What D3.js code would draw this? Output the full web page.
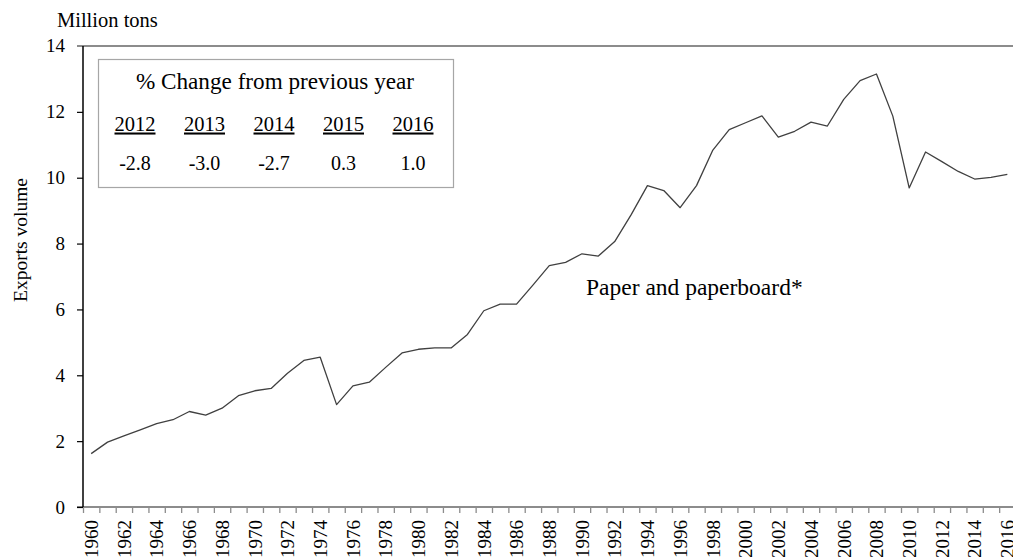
<!DOCTYPE html>
<html>
<head>
<meta charset="utf-8">
<script src="https://cdn.jsdelivr.net/npm/d3@7"></script>
<style>
  html, body { margin: 0; padding: 0; background: #fff; overflow: hidden; }
  svg { display: block; font-family: "Liberation Serif", "Times New Roman", serif; }
  svg text { font-family: "Liberation Serif", "Times New Roman", serif; fill: #000; }
</style>
</head>
<body>
<svg id="chart" width="1013" height="557"></svg>
<script>
// ---- data ----
const years = d3.range(1960, 2017);
const exportsVolume = [
  1.62, 1.97, 2.16, 2.34, 2.53, 2.65, 2.90, 2.79, 3.00, 3.38,
  3.53, 3.60, 4.06, 4.45, 4.55, 3.11, 3.68, 3.79, 4.24, 4.68,
  4.79, 4.83, 4.83, 5.24, 5.96, 6.16, 6.16, 6.74, 7.33, 7.43,
  7.69, 7.62, 8.06, 8.87, 9.76, 9.61, 9.09, 9.76, 10.84, 11.46,
  11.67, 11.88, 11.23, 11.41, 11.69, 11.57, 12.38, 12.95, 13.15, 11.87,
  9.69, 10.78, 10.49, 10.19, 9.96, 10.01, 10.10
];
const yTicks = [0, 2, 4, 6, 8, 10, 12, 14];
const xLabelYears = d3.range(1960, 2017, 2);
const changeYears = ["2012", "2013", "2014", "2015", "2016"];
const changeValues = ["-2.8", "-3.0", "-2.7", "0.3", "1.0"];
const unitLabel = "Million tons";
const yTitle = "Exports volume";
const seriesLabel = "Paper and paperboard*";
const insetTitle = "% Change from previous year";

// ---- layout ----
const svg = d3.select("#chart");
const plotLeft = 83, plotTop = 46, plotBottom = 507, bandW = 16.36;
const plotRight = plotLeft + bandW * years.length;

const xEdge = d3.scaleLinear().domain([1960, 2017]).range([plotLeft, plotRight]);
const y = d3.scaleLinear().domain([0, 14]).range([plotBottom, plotTop]);
const lineColor = "#404040";

// top border line at 14
svg.append("line")
  .attr("x1", plotLeft - 6).attr("x2", 1013)
  .attr("y1", y(14)).attr("y2", y(14))
  .attr("stroke", "#8c8c8c").attr("stroke-width", 2);

// x axis (ticks at band edges)
const xAxisG = svg.append("g")
  .attr("transform", `translate(0,${plotBottom})`)
  .call(d3.axisBottom(xEdge).tickValues(d3.range(1960, 2018)).tickFormat("").tickSize(6).tickSizeOuter(0));
xAxisG.select(".domain").remove();
xAxisG.selectAll(".tick line").attr("stroke", "#8c8c8c").attr("stroke-width", 1.3);
svg.append("line")
  .attr("x1", plotLeft - 6).attr("x2", 1013)
  .attr("y1", plotBottom).attr("y2", plotBottom)
  .attr("stroke", "#8c8c8c").attr("stroke-width", 2);

// x labels at band centers
const xLabG = svg.append("g")
  .attr("transform", `translate(0,${plotBottom})`)
  .call(d3.axisBottom(xEdge)
    .tickValues(xLabelYears.map(d => d + 0.5)).tickFormat(d => String(Math.floor(d))).tickSize(0));
xLabG.select(".domain").remove();
xLabG.selectAll(".tick text")
  .attr("font-size", 19)
  .attr("transform", "rotate(-90)")
  .attr("text-anchor", "end")
  .attr("x", -13).attr("y", 0).attr("dy", "0.33em");

// y axis
const yAxisG = svg.append("g")
  .attr("transform", `translate(${plotLeft},0)`)
  .call(d3.axisLeft(y).tickValues(yTicks.slice(0, -1)).tickSize(6).tickSizeOuter(0).tickPadding(12));
yAxisG.select(".domain").remove();
yAxisG.selectAll(".tick line").attr("stroke", "#000").attr("stroke-width", 1.2);
yAxisG.selectAll(".tick text").attr("font-size", 19);
svg.append("line")
  .attr("x1", plotLeft).attr("x2", plotLeft)
  .attr("y1", y(14)).attr("y2", plotBottom)
  .attr("stroke", "#000").attr("stroke-width", 1.5);
svg.append("text")
  .attr("x", plotLeft - 18).attr("y", y(14)).attr("dy", "0.33em")
  .attr("text-anchor", "end").attr("font-size", 19)
  .text(yTicks[yTicks.length - 1]);

// unit label and y title
svg.append("text")
  .attr("x", 57).attr("y", 27)
  .attr("font-size", 20.5).text(unitLabel);
svg.append("text")
  .attr("transform", `translate(27,240) rotate(-90)`)
  .attr("text-anchor", "middle")
  .attr("font-size", 19.5).text(yTitle);

// line
const line = d3.line()
  .x((d, i) => xEdge(years[i] + 0.5))
  .y(d => y(d));
svg.append("path")
  .datum(exportsVolume)
  .attr("fill", "none")
  .attr("stroke", lineColor)
  .attr("stroke-width", 1.3)
  .attr("stroke-linejoin", "round")
  .attr("d", line);

// series label
svg.append("text")
  .attr("x", 586).attr("y", 295)
  .attr("font-size", 23.5).text(seriesLabel);

// inset box
svg.append("rect")
  .attr("x", 98.5).attr("y", 59.5)
  .attr("width", 355).attr("height", 128)
  .attr("fill", "#fff").attr("stroke", "#a6a6a6").attr("stroke-width", 1.2);
svg.append("text")
  .attr("x", 275).attr("y", 89)
  .attr("text-anchor", "middle").attr("font-size", 23.2)
  .text(insetTitle);
const col = d3.scalePoint().domain(changeYears).range([135, 413]);
svg.selectAll("text.hdr").data(changeYears).join("text")
  .attr("class", "hdr")
  .attr("x", d => col(d)).attr("y", 130.5)
  .attr("text-anchor", "middle").attr("font-size", 20.5)
  .style("text-decoration", "underline")
  .text(d => d);
svg.selectAll("text.val").data(changeValues).join("text")
  .attr("class", "val")
  .attr("x", (d, i) => col(changeYears[i]))
  .attr("y", 170)
  .attr("text-anchor", "middle").attr("font-size", 20)
  .text(d => d);
</script>
</body>
</html>
